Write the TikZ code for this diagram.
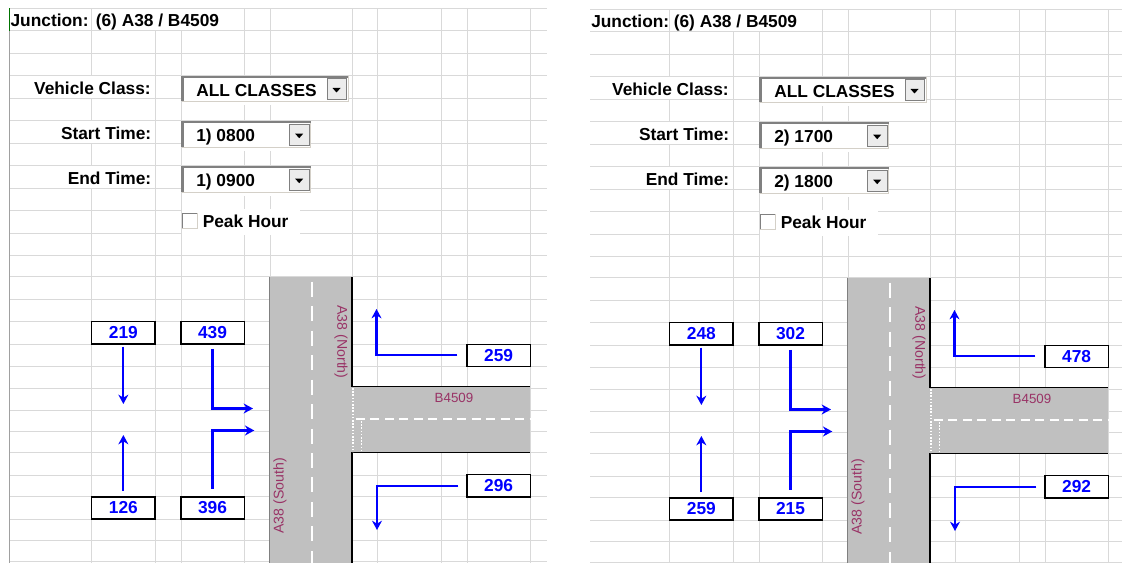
\documentclass[tikz,border=0pt]{standalone}
\usepackage{fontspec}
\setmainfont{Liberation Sans}
\usetikzlibrary{arrows.meta}

\definecolor{gridgray}{RGB}{217,217,217}
\definecolor{edgegray}{RGB}{160,160,160}
\definecolor{roadgray}{RGB}{192,192,192}
\definecolor{roadtext}{RGB}{153,51,102}
\definecolor{ctlshadow}{RGB}{128,128,128}
\definecolor{ctllight}{RGB}{212,208,200}
\definecolor{btnface}{RGB}{236,236,236}

\tikzset{
  gridline/.style={draw=gridgray,line width=0.75pt},
  fieldtext/.style={font=\bfseries\fontsize{13}{15}\selectfont,inner sep=0pt},
  countbox/.style={draw=black,fill=white,line width=1pt,minimum width=47.5pt,minimum height=16.7pt,
    inner sep=0pt,text=blue,font=\bfseries\fontsize{13}{15}\selectfont},
  roadname/.style={text=roadtext,inner sep=0pt,font=\fontsize{10.6}{12}\selectfont},
  flow/.style={draw=blue,line width=1.6pt,-{Stealth[length=7pt,width=7.5pt]}},
  roadedge/.style={draw=black,line width=0.9pt},
  centreline/.style={draw=white,line width=1.5pt,dash pattern=on 11.25pt off 7.1pt},
  laneline/.style={draw=white,line width=1.5pt,dash pattern=on 6.75pt off 4.1pt},
  giveway/.style={draw=white,line width=1.1pt,dash pattern=on 1.2pt off 1.2pt},
}

\begin{document}
\begin{tikzpicture}[x=0.75pt,y=-0.75pt]
\useasboundingbox (0,0) rectangle (1122,563);
\fill[white] (0,0) rectangle (1122,563);
\foreach \p/\dx/\dy/\xa/\xb/\k/\ts/\te/\na/\nb/\nc/\nd/\ne/\nf in
  {L/0/0/9.3/547/1/0800/0900/219/439/259/126/396/296,
   R/578/1/12/544/2/1700/1800/248/302/478/259/215/292}{
\begin{scope}[shift={(\dx,\dy)}]
% sheet grid
\foreach \r in {8.3,31,53.3,76,98.3,121,143.3,166,188.3,211,233.3,256,276.7,299.3,321.7,
                344,366.7,388.3,410,431.7,452.7,475,496.7,519.3,540,561.7}
  \draw[gridline] (\xa,\r) -- (\xb,\r);
\foreach \c in {91.7,155,181,244,270,352.7,377.7,441.3,467,530.3}
  \draw[gridline] (\c,8.3) -- (\c,563);
% cells the texts run over
\fill[white] (92.3,8.8) rectangle (243.4,30.5);
\foreach \r in {76,121,166}
  \fill[white] (9.8,\r+0.5) rectangle (154.4,\r+21.8);
\node[fieldtext,anchor=base west] (\p-junc) at (\xa+1,26.7) {Junction:};
\node[fieldtext,anchor=base west] (\p-jname) at (95.5,26.7) {(6) A38 / B4509};
% drop-down boxes
\foreach \cy/\cx in {76/348,121.7/310.7,166.7/310.7}{
  \fill[white] (181.5,\cy) rectangle (\cx+0.5,\cy+29.5);
  \draw[ctllight,line width=0.75pt] (182,\cy+25.5) -- (\cx,\cy+25.5) -- (\cx,\cy);
  \draw[ctlshadow,line width=1.6pt] (182.5,\cy+25.5) -- (182.5,\cy+0.7) -- (\cx,\cy+0.7);
  \filldraw[fill=btnface,draw=ctlshadow,line width=0.75pt] (\cx-21,\cy+3) rectangle (\cx-1.5,\cy+23.5);
  \fill (\cx-15.5,\cy+12) -- (\cx-7.5,\cy+12) -- (\cx-11.5,\cy+16.5) -- cycle;
}
\node[fieldtext,anchor=base east] (\p-vc) at (151,94.3) {Vehicle Class:};
\node[fieldtext,anchor=base east] (\p-st) at (151.5,139.3) {Start Time:};
\node[fieldtext,anchor=base east] (\p-et) at (151.5,185) {End Time:};
\node[fieldtext,anchor=base west] (\p-vcval) at (196,96.7) {ALL CLASSES};
\node[fieldtext,anchor=base west] (\p-stval) at (196,141.8) {\k) \ts};
\node[fieldtext,anchor=base west] (\p-etval) at (196,186.8) {\k) \te};
% peak hour tick box
\fill[white] (181.5,209.5) rectangle (300,235);
\draw[ctllight,line width=0.75pt] (182,228.5) -- (197,228.5) -- (197,213.5);
\draw[ctlshadow,line width=0.9pt] (182.3,228.5) -- (182.3,213.8) -- (197,213.8);
\node[fieldtext,anchor=base west] (\p-peak) at (202.5,227.3) {Peak Hour};
% roads
\fill[roadgray] (269.3,276.7) rectangle (352,563);
\fill[roadgray] (352,386.7) rectangle (530.3,452.7);
\draw[ctlshadow,line width=0.9pt] (269.3,276.7) -- (269.3,563);
\draw[roadedge] (352,276.7) -- (352,386.7) -- (530.3,386.7);
\draw[roadedge] (352,563) -- (352,452.7) -- (530.3,452.7);
\draw[centreline] (311.7,281.7) -- (311.7,563);
\draw[laneline] (356,418.5) -- (530.3,418.5);
\draw[giveway] (353.2,388) -- (353.2,452);
\draw[giveway] (361.7,421) -- (361.7,452);
\node[roadname,rotate=-90] (\p-north) at (341,342) {A38 (North)};
\node[roadname,rotate=90] (\p-south) at (280,495.8) {A38 (South)};
\node[roadname,font=\fontsize{10}{12}\selectfont] (\p-minor) at (454,397.7) {B4509};
% turning counts
\node[countbox] (\p-tl) at (123.35,332.85) {\na};
\node[countbox] (\p-tm) at (212.5,332.85) {\nb};
\node[countbox] (\p-tr) at (498.65,355.35) {\nc};
\node[countbox] (\p-bl) at (123.35,508) {\nd};
\node[countbox] (\p-bm) at (212.5,508) {\ne};
\node[countbox] (\p-br) at (498.65,485.85) {\nf};
\coordinate (\p-tl-end) at (123.35,404);
\coordinate (\p-tm-end) at (253,408.5);
\coordinate (\p-tr-end) at (376.5,309);
\coordinate (\p-bl-end) at (123.35,435);
\coordinate (\p-bm-end) at (254.3,430.5);
\coordinate (\p-br-end) at (377,530);
\draw[flow,shorten <=1.5pt] (\p-tl) -- (\p-tl-end);
\draw[flow,shorten <=3.2pt] (\p-tm) |- (\p-tm-end);
\draw[flow,shorten <=6.75pt] (\p-tr) -| (\p-tr-end);
\draw[flow,shorten <=3.75pt] (\p-bl) -- (\p-bl-end);
\draw[flow,shorten <=5.5pt] (\p-bm) |- (\p-bm-end);
\draw[flow,shorten <=6pt] (\p-br) -| (\p-br-end);
\end{scope}}
\draw[edgegray,line width=0.9pt] (9.3,8.3) -- (9.3,563);
\draw[green!45!black,line width=0.9pt] (9.3,8.3) -- (9.3,31);
\end{tikzpicture}
\end{document}
